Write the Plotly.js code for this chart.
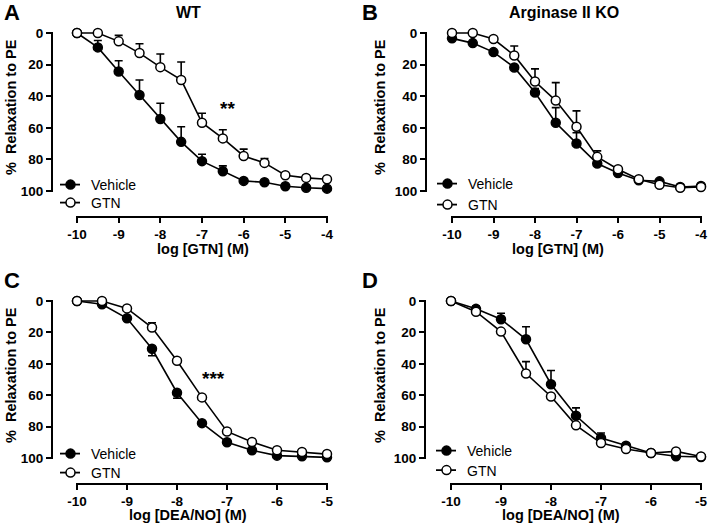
<!DOCTYPE html>
<html><head><meta charset="utf-8">
<script src="https://cdn.plot.ly/plotly-3.0.1.min.js"></script>
<style>html,body{margin:0;padding:0;background:#fff}</style>
</head><body><div id="chart" style="width:709px;height:530px"></div>
<script>
// ---------- data ----------
const xGTN = [-10, -9.5, -9, -8.5, -8, -7.5, -7, -6.5, -6, -5.5, -5, -4.5, -4];
const xDEA = [-10, -9.5, -9, -8.5, -8, -7.5, -7, -6.5, -6, -5.5, -5];
const xTickValsGTN = [-10, -9, -8, -7, -6, -5, -4];
const xTickTextGTN = ['-10', '-9', '-8', '-7', '-6', '-5', '-4'];
const xTickValsDEA = [-10, -9, -8, -7, -6, -5];
const xTickTextDEA = ['-10', '-9', '-8', '-7', '-6', '-5'];
const yTickVals = [0, 20, 40, 60, 80, 100];
const yTickText = ['0', '20', '40', '60', '80', '100'];
const seriesNames = ['Vehicle', 'GTN'];
const panelLetters = ['A', 'B', 'C', 'D'];
const panelTitles = ['WT', 'Arginase II KO'];
const xTitles = ['log [GTN] (M)', 'log [GTN] (M)', 'log [DEA/NO] (M)', 'log [DEA/NO] (M)'];
const yTitle = '%\u00a0 Relaxation to PE';
const sigLabels = ['**', '***'];

// Panel A: WT, GTN curve
const aVehicle    = [0, 9.1, 24.4, 39.2, 54.4, 68.9, 81.1, 87.5, 93.6, 94.5, 97.0, 97.9, 98.5];
const aVehicleErr = [0, 4.4, 6.8, 9.5, 9.9, 9.6, 4.4, 3.4, 0, 0, 0, 0, 0];
const aGTN        = [0, 0, 5.3, 12.7, 21.6, 29.7, 56.8, 66.7, 77.8, 82.2, 90.0, 91.7, 92.6];
const aGTNErr     = [0, 0, 3.8, 5.9, 8.3, 11.3, 6.0, 5.5, 4.3, 2.8, 0, 0, 0];
// Panel B: Arginase II KO, GTN curve
const bVehicle    = [3.4, 6.4, 12.1, 21.8, 37.7, 56.8, 69.9, 82.6, 88.6, 93.2, 93.9, 97.5, 96.8];
const bVehicleErr = [0, 0, 0, 0, 2.5, 9.6, 6.8, 0, 0, 0, 0, 0, 0];
const bGTN        = [0, 0, 3.8, 14.2, 30.7, 42.8, 59.3, 78.4, 86.2, 92.6, 96.0, 97.9, 97.5];
const bGTNErr     = [0, 0, 0, 6.0, 8.0, 11.4, 10.0, 3.8, 0, 0, 0, 0, 0];
// Panel C: WT, DEA/NO curve
const cVehicle    = [0, 2.1, 11.0, 30.4, 58.4, 77.8, 90.0, 95.1, 98.5, 98.9, 99.6];
const cVehicleErr = [0, 0, 0, 4.5, 3.5, 0, 0, 0, 0, 0, 0];
const cGTN        = [0, 0, 4.7, 16.9, 38.1, 61.4, 83.1, 89.8, 95.1, 96.2, 97.5];
const cGTNErr     = [0, 0, 0, 3.0, 0, 0, 0, 0, 0, 0, 0];
// Panel D: Arginase II KO, DEA/NO curve
const dVehicle    = [0, 5.0, 11.6, 24.4, 53.0, 73.1, 87.3, 92.2, 96.8, 98.9, 99.4];
const dVehicleErr = [0, 1.8, 3.8, 8.0, 8.7, 5.0, 3.2, 0, 0, 0, 0];
const dGTN        = [0, 6.8, 19.5, 46.2, 60.8, 79.2, 90.5, 94.3, 96.8, 95.8, 99.0];
const dGTNErr     = [0, 0, 0, 7.6, 0, 0, 0, 0, 0, 0, 0];

// ---------- layout helpers ----------
const W = 709, H = 530;
const px = v => v / W;
const py = v => 1 - v / H;
const FONT = 'Liberation Sans, Arial, Helvetica, sans-serif';
const bold = s => '<b>' + s + '</b>';

// pixel geometry of each panel
const geom = [
  {x0: 77,  x1: 327, xLineY: 217, yTop: 33,  yBot: 191, yLineX: 52,  right: 336},
  {x0: 452, x1: 701, xLineY: 217, yTop: 33,  yBot: 191, yLineX: 426, right: 708},
  {x0: 77,  x1: 327, xLineY: 484, yTop: 301, yBot: 458, yLineX: 52,  right: 336},
  {x0: 451, x1: 701, xLineY: 484, yTop: 301, yBot: 458, yLineX: 425, right: 708}
];
const xEnds = [[-10, -4], [-10, -4], [-10, -5], [-10, -5]];
const xTicks = [[xTickValsGTN, xTickTextGTN], [xTickValsGTN, xTickTextGTN], [xTickValsDEA, xTickTextDEA], [xTickValsDEA, xTickTextDEA]];

const panels = [
  {x: xGTN, v: aVehicle, ve: aVehicleErr, vdir: 'up', g: aGTN, ge: aGTNErr, gdir: 'up'},
  {x: xGTN, v: bVehicle, ve: bVehicleErr, vdir: 'up', g: bGTN, ge: bGTNErr, gdir: 'up'},
  {x: xDEA, v: cVehicle, ve: cVehicleErr, vdir: 'down', g: cGTN, ge: cGTNErr, gdir: 'up'},
  {x: xDEA, v: dVehicle, ve: dVehicleErr, vdir: 'up', g: dGTN, ge: dGTNErr, gdir: 'up'}
];

function makeTrace(x, y, err, dir, filled, name, i, legendId) {
  const zeros = err.map(() => 0);
  const sfx = i === 0 ? '' : String(i + 1);
  return {
    type: 'scatter', mode: 'lines+markers', name: name,
    x: x, y: y,
    xaxis: 'x' + sfx, yaxis: 'y' + sfx,
    legend: legendId,
    cliponaxis: false,
    line: {color: '#000', width: 1.6},
    marker: {symbol: 'circle', size: 9, color: filled ? '#000' : '#fff', line: {color: '#000', width: 1.5}},
    error_y: {
      type: 'data', symmetric: false,
      array: dir === 'down' ? err : zeros,
      arrayminus: dir === 'up' ? err : zeros,
      color: '#000', thickness: 1.6, width: 4
    },
    hoverinfo: 'skip'
  };
}

const legendIds = ['legend', 'legend2', 'legend3', 'legend4', 'legend5', 'legend6', 'legend7', 'legend8'];
const data = [];
panels.forEach((p, i) => {
  data.push(makeTrace(p.x, p.v, p.ve, p.vdir, true, seriesNames[0], i, legendIds[2 * i]));
  data.push(makeTrace(p.x, p.g, p.ge, p.gdir, false, seriesNames[1], i, legendIds[2 * i + 1]));
});

const layout = {
  width: W, height: H,
  margin: {l: 0, r: 0, t: 0, b: 0},
  paper_bgcolor: '#fff', plot_bgcolor: 'rgba(0,0,0,0)',
  font: {family: FONT, color: '#000', size: 13},
  showlegend: true,
  annotations: [], shapes: []
};

// legend entry positions (marker centre px, row centre px) for Vehicle / GTN of each panel
const legendRows = [
  [[70, 184], [70, 202]],
  [[447, 183], [447, 204]],
  [[70, 453], [70, 472]],
  [[446, 450], [446, 469.5]]
];

geom.forEach((g, i) => {
  const sfx = i === 0 ? '' : String(i + 1);
  const sx = (g.x1 - g.x0) / (xEnds[i][1] - xEnds[i][0]);
  const sy = (g.yBot - g.yTop) / 100;
  const top = g.yTop - 10;
  layout['xaxis' + sfx] = {
    domain: [px(g.yLineX), px(g.right)],
    range: [xEnds[i][0] - (g.x0 - g.yLineX) / sx, xEnds[i][1] + (g.right - g.x1) / sx],
    anchor: 'y' + sfx, showline: false,
    ticks: 'outside', ticklen: 5, tickwidth: 2, tickcolor: '#000',
    tickvals: xTicks[i][0], ticktext: xTicks[i][1].map(bold),
    tickfont: {family: FONT, size: 13.5, color: '#000'},
    showgrid: false, zeroline: false, fixedrange: true
  };
  layout['yaxis' + sfx] = {
    domain: [py(g.xLineY), py(top)],
    range: [100 + (g.xLineY - g.yBot) / sy, -(g.yTop - top) / sy],
    anchor: 'x' + sfx, showline: false,
    ticks: 'outside', ticklen: 5, tickwidth: 2, tickcolor: '#000',
    tickvals: yTickVals, ticktext: yTickText.map(bold),
    tickfont: {family: FONT, size: 13.5, color: '#000'},
    showgrid: false, zeroline: false, fixedrange: true
  };
  // axis lines spanning only the tick range (Prism style)
  layout.shapes.push({type: 'line', xref: 'paper', yref: 'paper',
    x0: px(g.yLineX), x1: px(g.yLineX), y0: py(g.yTop - 1), y1: py(g.yBot + 1),
    line: {color: '#000', width: 2}});
  layout.shapes.push({type: 'line', xref: 'paper', yref: 'paper',
    x0: px(g.x0 - 1), x1: px(g.x1 + 1), y0: py(g.xLineY), y1: py(g.xLineY),
    line: {color: '#000', width: 2}});
  legendRows[i].forEach((r, j) => {
    layout[legendIds[2 * i + j]] = {
      x: px(r[0] - 20), y: py(r[1] - 15), xanchor: 'left', yanchor: 'top',
      bgcolor: 'rgba(0,0,0,0)', borderwidth: 0, itemwidth: 31,
      font: {family: FONT, size: 14, color: '#000'},
      itemclick: false, itemdoubleclick: false
    };
  });
});

// panel letters
const letterPos = [[12, 13], [370, 13], [12, 280], [370, 280]];
panelLetters.forEach((t, i) => layout.annotations.push({
  text: bold(t), xref: 'paper', yref: 'paper',
  x: px(letterPos[i][0]), y: py(letterPos[i][1]), xanchor: 'center', yanchor: 'middle',
  showarrow: false, font: {family: FONT, size: 22, color: '#000'}
}));
// panel titles
const titlePos = [[189, 13], [564, 13]];
panelTitles.forEach((t, i) => layout.annotations.push({
  text: bold(t), xref: 'paper', yref: 'paper',
  x: px(titlePos[i][0]), y: py(titlePos[i][1]), xanchor: 'center', yanchor: 'middle',
  showarrow: false, font: {family: FONT, size: 16, color: '#000'}
}));
// x titles
const xTitlePos = [[203, 249], [558, 249], [188, 515], [561, 515]];
xTitles.forEach((t, i) => layout.annotations.push({
  text: bold(t), xref: 'paper', yref: 'paper',
  x: px(xTitlePos[i][0]), y: py(xTitlePos[i][1]), xanchor: 'center', yanchor: 'middle',
  showarrow: false, font: {family: FONT, size: 14.5, color: '#000'}
}));
// y titles
const yTitlePos = [[11, 107], [380, 107], [11, 375], [380, 375]];
yTitlePos.forEach(p => layout.annotations.push({
  text: bold(yTitle), xref: 'paper', yref: 'paper', textangle: -90,
  x: px(p[0]), y: py(p[1]), xanchor: 'center', yanchor: 'middle',
  showarrow: false, font: {family: FONT, size: 14.5, color: '#000'}
}));
// significance marks
layout.annotations.push({
  text: bold(sigLabels[0]), xref: 'x', yref: 'y', x: -6.4, y: 48,
  xanchor: 'center', yanchor: 'middle', showarrow: false,
  font: {family: FONT, size: 19, color: '#000'}
});
layout.annotations.push({
  text: bold(sigLabels[1]), xref: 'x3', yref: 'y3', x: -7.28, y: 49.5,
  xanchor: 'center', yanchor: 'middle', showarrow: false,
  font: {family: FONT, size: 19, color: '#000'}
});

// shorter legend line, as in the original figure (marker sits at x=20 of each entry)
function shortenLegendLines(gd) {
  gd.querySelectorAll('g.legendlines path').forEach(p => {
    p.setAttribute('d', 'M10,0h20');
    p.setAttribute('style', 'stroke:#000;stroke-width:1.8px;fill:none');
  });
}
Plotly.newPlot('chart', data, layout, {staticPlot: true, displayModeBar: false}).then(gd => {
  shortenLegendLines(gd);
});
</script>
</body></html>
